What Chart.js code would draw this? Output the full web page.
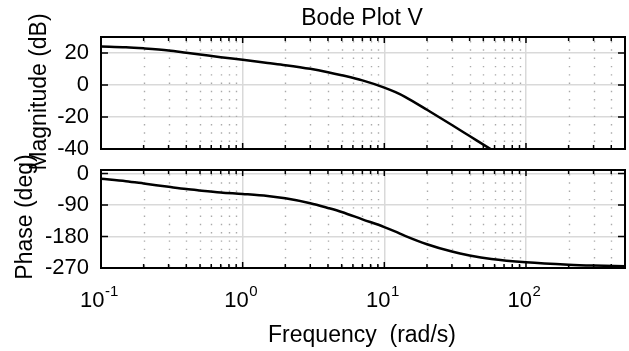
<!DOCTYPE html>
<html>
<head>
<meta charset="utf-8">
<script src="https://cdn.jsdelivr.net/npm/chart.js@4"></script>
<style>
  body { margin: 0; background: #fff; }
  #wrap { position: relative; width: 629px; height: 351px; }
  canvas { position: absolute; left: 0; }
</style>
</head>
<body>
<div id="wrap">
  <canvas id="phase" width="629" height="211" style="top:140px"></canvas>
  <canvas id="mag" width="629" height="180" style="top:0px"></canvas>
</div>
<script>
// values
const freqMag = [0.1, 0.15, 0.2, 0.3, 0.4, 0.5, 0.7, 1, 1.5, 2, 3, 4, 5, 7, 10, 12, 14, 20, 30, 40, 57, 70];
const magDb   = [24.1, 23.6, 22.9, 21.6, 20.2, 19.1, 17.4, 15.8, 13.8, 12.4, 10.1, 8.0, 6.1, 2.9, -1.6, -4.5, -7.4, -15.5, -25.0, -31.9, -40.4, -45.4];
const freqPhase = [0.1, 0.15, 0.2, 0.3, 0.4, 0.5, 0.7, 1, 1.5, 2, 3, 4, 5, 7, 10, 12, 14, 20, 30, 40, 57, 100, 200, 300, 500];
const phaseDeg  = [-15, -22, -28.5, -38, -44.5, -48.5, -54, -58.5, -64.5, -71, -85, -98.5, -110, -131, -153, -166, -178, -202, -223, -234, -244, -253.5, -260.5, -263, -265];
const decadeTicks = [0.1, 1, 10, 100];
const decadeLabels = [['10', '-1'], ['10', '0'], ['10', '1'], ['10', '2']];
const magTicks = [-40, -20, 0, 20];
const phaseTicks = [-270, -180, -90, 0];

const FONT = "'Liberation Sans', Arial, sans-serif";
const FMIN = 0.1, FMAX = 500;

function minorFreqs() {
    let out = [];
    for (let k = -1; k <= 2; k++) {
        for (let m = 2; m <= 9; m++) {
            let v = m * Math.pow(10, k);
            if (v > FMIN && v < FMAX) out.push(v);
        }
    }
    return out;
}

const gridPlugin = {
    id: 'bodeGrid',
    beforeDatasetsDraw(chart) {
        const {ctx, chartArea: a, scales: {x}} = chart;
        ctx.save();
        ctx.strokeStyle = '#aaaaaa';
        ctx.lineWidth = 1.4;
        ctx.setLineDash([1.4, 6.9]);
        minorFreqs().forEach(v => {
            let px = Math.round(x.getPixelForValue(v)) + 0.5;
            ctx.beginPath();
            ctx.moveTo(px, a.top + 4);
            ctx.lineTo(px, a.bottom);
            ctx.stroke();
        });
        ctx.restore();
    },
    afterDatasetsDraw(chart) {
        const {ctx, chartArea: a, scales: {x, y}} = chart;
        ctx.save();
        ctx.strokeStyle = '#000';
        ctx.lineWidth = 1.5;
        ctx.beginPath();
        decadeTicks.concat(minorFreqs()).forEach(v => {
            let px = x.getPixelForValue(v);
            let len = decadeTicks.includes(v) ? 6 : 4;
            ctx.moveTo(px, a.top); ctx.lineTo(px, a.top + len);
            ctx.moveTo(px, a.bottom); ctx.lineTo(px, a.bottom - len);
        });
        y.ticks.forEach(t => {
            let py = y.getPixelForValue(t.value);
            ctx.moveTo(a.left, py); ctx.lineTo(a.left + 7, py);
            ctx.moveTo(a.right, py); ctx.lineTo(a.right - 7, py);
        });
        ctx.stroke();
        ctx.lineWidth = 2;
        ctx.strokeRect(a.left, a.top, a.right - a.left, a.bottom - a.top);
        ctx.restore();
    }
};

function rotatedLabel(ctx, text, x, y) {
    ctx.save();
    ctx.translate(x, y);
    ctx.rotate(-Math.PI / 2);
    ctx.textAlign = 'center';
    ctx.textBaseline = 'alphabetic';
    ctx.fillText(text, 0, 0);
    ctx.restore();
}

const magText = {
    id: 'magText',
    afterDraw(chart) {
        const ctx = chart.ctx;
        ctx.save();
        ctx.fillStyle = '#000';
        ctx.font = '23px ' + FONT;
        ctx.textAlign = 'center';
        ctx.fillText('Bode Plot V', 362, 25);
        rotatedLabel(ctx, 'Magnitude (dB)', 46, 92);
        ctx.restore();
    }
};

const phaseText = {
    id: 'phaseText',
    afterDraw(chart) {
        const {ctx, scales: {x}} = chart;
        ctx.save();
        ctx.fillStyle = '#000';
        ctx.font = '23px ' + FONT;
        rotatedLabel(ctx, 'Phase (deg)', 32, 77);
        ctx.textAlign = 'center';
        ctx.fillText('Frequency  (rad/s)', 362, 202);
        // decade labels with exponents
        ctx.textAlign = 'left';
        decadeTicks.forEach((v, i) => {
            let [base, exp] = decadeLabels[i];
            ctx.font = '22px ' + FONT;
            let wb = ctx.measureText(base).width;
            ctx.font = '15px ' + FONT;
            let we = ctx.measureText(exp).width;
            let left = x.getPixelForValue(v) - (wb + we) / 2 - 2;
            ctx.font = '22px ' + FONT;
            ctx.fillText(base, left, 167);
            ctx.font = '15px ' + FONT;
            ctx.fillText(exp, left + wb + 0.5, 156);
        });
        ctx.restore();
    }
};

function makeOptions(yMin, yMax, yTicks, pad) {
    return {
        responsive: false,
        animation: false,
        layout: { padding: pad },
        plugins: { legend: { display: false }, tooltip: { enabled: false }, title: { display: false } },
        elements: { point: { radius: 0 } },
        scales: {
            x: {
                type: 'logarithmic', min: FMIN, max: FMAX,
                afterBuildTicks: s => { s.ticks = decadeTicks.map(v => ({ value: v })); },
                afterFit: s => { s.height = 0; },
                ticks: { display: false },
                grid: { color: '#d9d9d9', lineWidth: 1.5, drawTicks: false },
                border: { display: false }
            },
            y: {
                type: 'linear', min: yMin, max: yMax,
                afterBuildTicks: s => { s.ticks = yTicks.map(v => ({ value: v })); },
                afterFit: s => { s.width = 101; },
                ticks: { color: '#000', padding: 12, font: { family: FONT, size: 22 } },
                grid: { color: '#d9d9d9', lineWidth: 1.5, drawTicks: false },
                border: { display: false }
            }
        }
    };
}

new Chart(document.getElementById('mag'), {
    type: 'line',
    data: {
        datasets: [{
            data: freqMag.map((f, i) => ({ x: f, y: magDb[i] })),
            borderColor: '#000',
            borderWidth: 2.5,
            cubicInterpolationMode: 'monotone',
            fill: false
        }]
    },
    options: makeOptions(-40, 30, magTicks, { left: 0, top: 37, right: 4, bottom: 31 }),
    plugins: [gridPlugin, magText]
});

new Chart(document.getElementById('phase'), {
    type: 'line',
    data: {
        datasets: [{
            data: freqPhase.map((f, i) => ({ x: f, y: phaseDeg[i] })),
            borderColor: '#000',
            borderWidth: 2.5,
            cubicInterpolationMode: 'monotone',
            fill: false
        }]
    },
    options: makeOptions(-270, 10, phaseTicks, { left: 0, top: 30, right: 4, bottom: 83 }),
    plugins: [gridPlugin, phaseText]
});
</script>
</body>
</html>
